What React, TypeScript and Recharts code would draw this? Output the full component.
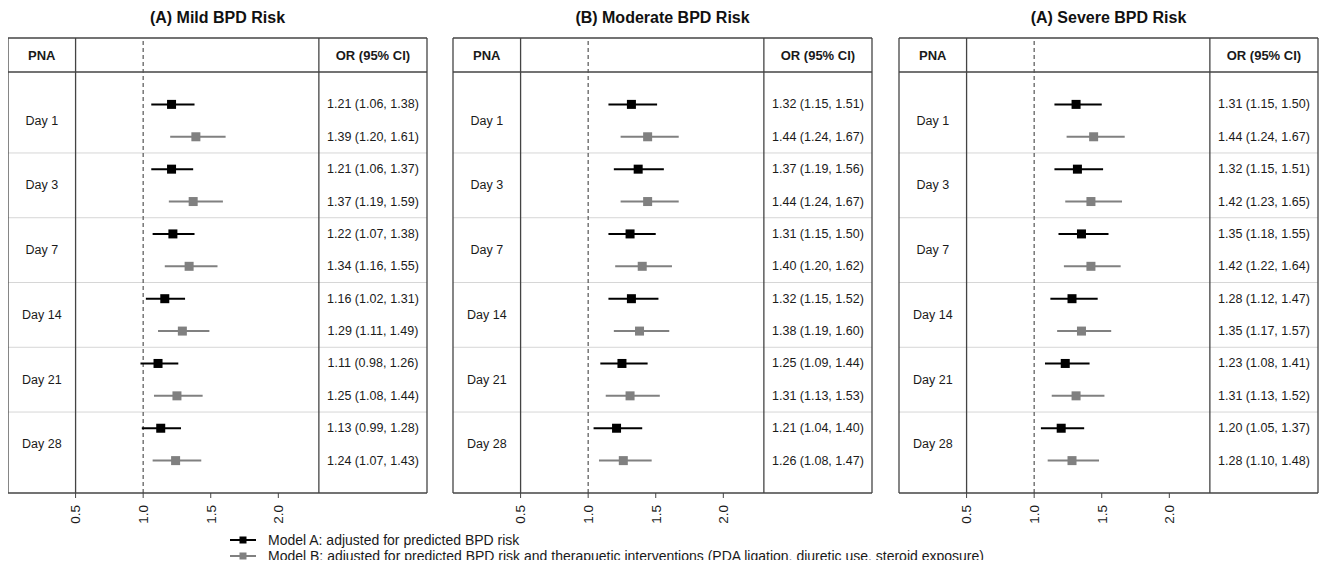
import React from "react";
import { ScatterChart, Scatter, XAxis, YAxis, ErrorBar, ReferenceLine } from "recharts";

const FONT = '"Liberation Sans", Arial, Helvetica, sans-serif';

// PNA days shown as row groups
const days = ["Day 1", "Day 3", "Day 7", "Day 14", "Day 21", "Day 28"];
const xTicks = [0.5, 1.0, 1.5, 2.0];

// [OR, lower, upper] per day
const mildA = [[1.21, 1.06, 1.38], [1.21, 1.06, 1.37], [1.22, 1.07, 1.38], [1.16, 1.02, 1.31], [1.11, 0.98, 1.26], [1.13, 0.99, 1.28]];
const mildB = [[1.39, 1.2, 1.61], [1.37, 1.19, 1.59], [1.34, 1.16, 1.55], [1.29, 1.11, 1.49], [1.25, 1.08, 1.44], [1.24, 1.07, 1.43]];
const modA = [[1.32, 1.15, 1.51], [1.37, 1.19, 1.56], [1.31, 1.15, 1.5], [1.32, 1.15, 1.52], [1.25, 1.09, 1.44], [1.21, 1.04, 1.4]];
const modB = [[1.44, 1.24, 1.67], [1.44, 1.24, 1.67], [1.4, 1.2, 1.62], [1.38, 1.19, 1.6], [1.31, 1.13, 1.53], [1.26, 1.08, 1.47]];
const sevA = [[1.31, 1.15, 1.5], [1.32, 1.15, 1.51], [1.35, 1.18, 1.55], [1.28, 1.12, 1.47], [1.23, 1.08, 1.41], [1.2, 1.05, 1.37]];
const sevB = [[1.44, 1.24, 1.67], [1.42, 1.23, 1.65], [1.42, 1.22, 1.64], [1.35, 1.17, 1.57], [1.31, 1.13, 1.52], [1.28, 1.1, 1.48]];

const panels = [
  { title: "(A) Mild BPD Risk", a: mildA, b: mildB },
  { title: "(B) Moderate BPD Risk", a: modA, b: modB },
  { title: "(A) Severe BPD Risk", a: sevA, b: sevB },
];

// table layout in axis units: x domain spans the whole table, y rows top->bottom
const X_MIN = 0;
const X_MAX = 3.1;
const PNA_COL = 0.5;
const OR_COL = 2.3;
const HEAD = -1.05;
const Y_MAX = 13;
const PANEL_LEFT = [0, 445, 891];

const fmt = (r: number[]) => `${r[0].toFixed(2)} (${r[1].toFixed(2)}, ${r[2].toFixed(2)})`;

const toPoints = (rows: number[][], offset: number) =>
  rows.map((r, i) => ({ x: r[0], y: i * 2 + offset, err: [r[0] - r[1], r[2] - r[0]] }));

const Square = (props: any) => {
  const { cx, cy, fill } = props;
  if (cx == null || cy == null) return null;
  return <rect x={cx - 4.5} y={cy - 4.5} width={9} height={9} fill={fill} />;
};

const TextCell = (props: any) => {
  const { cx, cy } = props;
  const p = props.payload || props;
  if (cx == null || cy == null) return null;
  return (
    <text x={cx} y={cy} textAnchor="middle" dominantBaseline="central" fontSize={p.bold ? 13 : 12.5}
      fontFamily={FONT} fontWeight={p.bold ? "bold" : "normal"} fill="#1a1a1a">
      {p.text}
    </text>
  );
};

const RotTick = (props: any) => {
  const { x, y, payload } = props;
  return (
    <text transform={`translate(${x},${y + 5}) rotate(-90)`} textAnchor="end" dy="0.36em"
      fontSize={13.5} fontFamily={FONT} fill="#1a1a1a">
      {Number(payload.value).toFixed(1)}
    </text>
  );
};

function ForestPanel({ title, a, b, left }: any) {
  const ptsA = toPoints(a, 1);
  const ptsB = toPoints(b, 2);
  const labels = [
    { x: PNA_COL / 2, y: HEAD / 2, text: "PNA", bold: true },
    { x: (OR_COL + X_MAX) / 2, y: HEAD / 2, text: "OR (95% CI)", bold: true },
    ...days.map((d, i) => ({ x: PNA_COL / 2, y: i * 2 + 1.5, text: d })),
    ...a.map((r: number[], i: number) => ({ x: (OR_COL + X_MAX) / 2, y: i * 2 + 1, text: fmt(r) })),
    ...b.map((r: number[], i: number) => ({ x: (OR_COL + X_MAX) / 2, y: i * 2 + 2, text: fmt(r) })),
  ];
  const seps = [2.5, 4.5, 6.5, 8.5, 10.5];
  return (
    <div style={{ position: "absolute", left: left - 2, top: 0 }}>
      <div style={{ position: "absolute", left: 2, width: 419, top: 0, height: 20, lineHeight: "20px",
        textAlign: "center", fontFamily: FONT, fontWeight: "bold", fontSize: 16, color: "#111" }}>
        {title}
      </div>
      <div style={{ position: "absolute", left: 0, top: 28 }}>
        <ScatterChart width={423} height={493} margin={{ top: 2, right: 2, left: 2, bottom: 0 }}>
          <XAxis type="number" dataKey="x" domain={[X_MIN, X_MAX]} ticks={xTicks} interval={0}
            allowDataOverflow height={36} tickSize={5} tickLine={{ stroke: "#444" }}
            axisLine={{ stroke: "#444", strokeWidth: 1.3 }} tick={<RotTick />} />
          <YAxis type="number" dataKey="y" domain={[HEAD, Y_MAX]} reversed hide allowDataOverflow />
          {seps.map((s) => (
            <ReferenceLine key={s} y={s} stroke="#d6d6d6" strokeWidth={1} />
          ))}
          <ReferenceLine y={HEAD} stroke="#444" strokeWidth={1.3} />
          <ReferenceLine y={0} stroke="#444" strokeWidth={1.3} />
          {[X_MIN, PNA_COL, OR_COL, X_MAX].map((v) => (
            <ReferenceLine key={v} x={v} stroke="#444" strokeWidth={1.3} />
          ))}
          <ReferenceLine x={1} stroke="#555" strokeDasharray="4 3" strokeWidth={1.2} />
          <Scatter data={labels} shape={<TextCell />} isAnimationActive={false} />
          <Scatter data={ptsB} fill="#808080" shape={<Square />} isAnimationActive={false}>
            <ErrorBar dataKey="err" direction="x" width={0} stroke="#808080" strokeWidth={2} />
          </Scatter>
          <Scatter data={ptsA} fill="#000000" shape={<Square />} isAnimationActive={false}>
            <ErrorBar dataKey="err" direction="x" width={0} stroke="#000000" strokeWidth={2} />
          </Scatter>
        </ScatterChart>
      </div>
    </div>
  );
}

const legendItems = [
  { label: "Model A: adjusted for predicted BPD risk", color: "#000000" },
  { label: "Model B: adjusted for predicted BPD risk and therapuetic interventions (PDA ligation, diuretic use, steroid exposure)", color: "#808080" },
];

export default function App() {
  return (
    <div style={{ position: "relative", width: 1313, height: 552, fontFamily: FONT }}>
      {panels.map((p, i) => (
        <ForestPanel key={p.title + i} title={p.title} a={p.a} b={p.b} left={PANEL_LEFT[i]} />
      ))}
      <div style={{ position: "absolute", left: 222, top: 524 }}>
        {legendItems.map((it) => (
          <div key={it.label} style={{ display: "flex", alignItems: "center", height: 16 }}>
            <svg width={26} height={10} style={{ marginRight: 12 }}>
              <line x1={0} y1={5} x2={26} y2={5} stroke={it.color} strokeWidth={2} />
              <rect x={9.5} y={1.5} width={7} height={7} fill={it.color} />
            </svg>
            <span style={{ fontSize: 14, color: "#1a1a1a", whiteSpace: "nowrap" }}>{it.label}</span>
          </div>
        ))}
      </div>
    </div>
  );
}
